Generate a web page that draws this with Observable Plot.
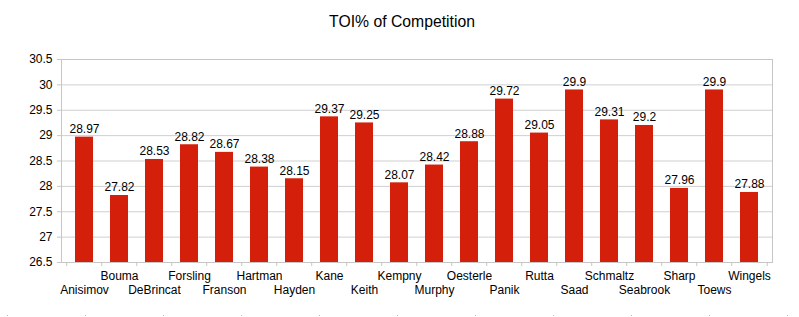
<!DOCTYPE html>
<html><head><meta charset="utf-8">
<script src="https://cdn.jsdelivr.net/npm/d3@7"></script>
<script src="https://cdn.jsdelivr.net/npm/@observablehq/plot@0.6"></script>
<style>
body{margin:0;background:#fff;font-family:"Liberation Sans",Arial,sans-serif}
#wrap{position:relative;width:799px;height:317px;overflow:hidden}
#title{position:absolute;top:13.5px;left:0;width:799px;padding-left:5px;box-sizing:border-box;text-align:center;font-size:15.75px;line-height:16px;color:#000}
#chart{position:absolute;top:0;left:0}
#dots{position:absolute;top:315px;left:7px;width:790px;height:1px;background:repeating-linear-gradient(to right,#bdbdbd 0 1px,transparent 1px 78px)}
</style></head><body>
<div id="wrap"><div id="chart"></div><div id="title">TOI% of Competition</div><div id="dots"></div></div>
<script>
const players = ["Anisimov","Bouma","DeBrincat","Forsling","Franson","Hartman","Hayden","Kane","Keith","Kempny","Murphy","Oesterle","Panik","Rutta","Saad","Schmaltz","Seabrook","Sharp","Toews","Wingels"];
const toi = [28.97,27.82,28.53,28.82,28.67,28.38,28.15,29.37,29.25,28.07,28.42,28.88,29.72,29.05,29.9,29.31,29.2,27.96,29.9,27.88];
const yTicks = [26.5,27,27.5,28,28.5,29,29.5,30,30.5];

const W = 799, H = 317, ML = 61, MR = 27, MT = 59, MB = 55;
const step = (W - ML - MR) / players.length;
const tickLen = 4 * (30.5 - 26.5) / (H - MT - MB);
const data = players.map((p, i) => ({player: p, toi: toi[i], row: i % 2}));

const chart = Plot.plot({
  width: W, height: H,
  marginLeft: ML, marginRight: MR, marginTop: MT, marginBottom: MB,
  style: {fontFamily: "Liberation Sans, Arial, sans-serif", fontSize: "12px", color: "#000", background: "#fff"},
  x: {domain: players, paddingInner: 0.5, paddingOuter: 0.25, axis: null},
  y: {domain: [26.5, 30.5], axis: null},
  marks: [
    Plot.ruleY(yTicks, {stroke: "#cfcfcf"}),
    Plot.frame({stroke: "#c6c6c6"}),
    Plot.barY(data, {x: "player", y1: 26.5, y2: "toi", fill: "#d41f0b"}),
    Plot.text(data, {x: "player", y: "toi", text: d => String(d.toi), dy: -8, lineAnchor: "middle", fill: "#000", fontSize: 12}),
    Plot.axisY({ticks: yTicks, tickFormat: d => String(d), tickSize: 4, tickPadding: 5, stroke: "#c6c6c6", fill: "#000", label: null, fontSize: 12}),
    Plot.ruleX(players, {x: d => d, y1: 26.5, y2: 26.5 - tickLen, dx: -step / 2, stroke: "#c6c6c6"}),
    Plot.ruleX(players.slice(-1), {x: d => d, y1: 26.5, y2: 26.5 - tickLen, dx: step / 2, stroke: "#c6c6c6"}),
    Plot.text(data.filter(d => d.row === 1), {x: "player", text: "player", frameAnchor: "bottom", lineAnchor: "middle", dy: 14, fill: "#000", fontSize: 12}),
    Plot.text(data.filter(d => d.row === 0), {x: "player", text: "player", frameAnchor: "bottom", lineAnchor: "middle", dy: 28, fill: "#000", fontSize: 12})
  ]
});
document.getElementById("chart").appendChild(chart);
</script>
</body></html>
